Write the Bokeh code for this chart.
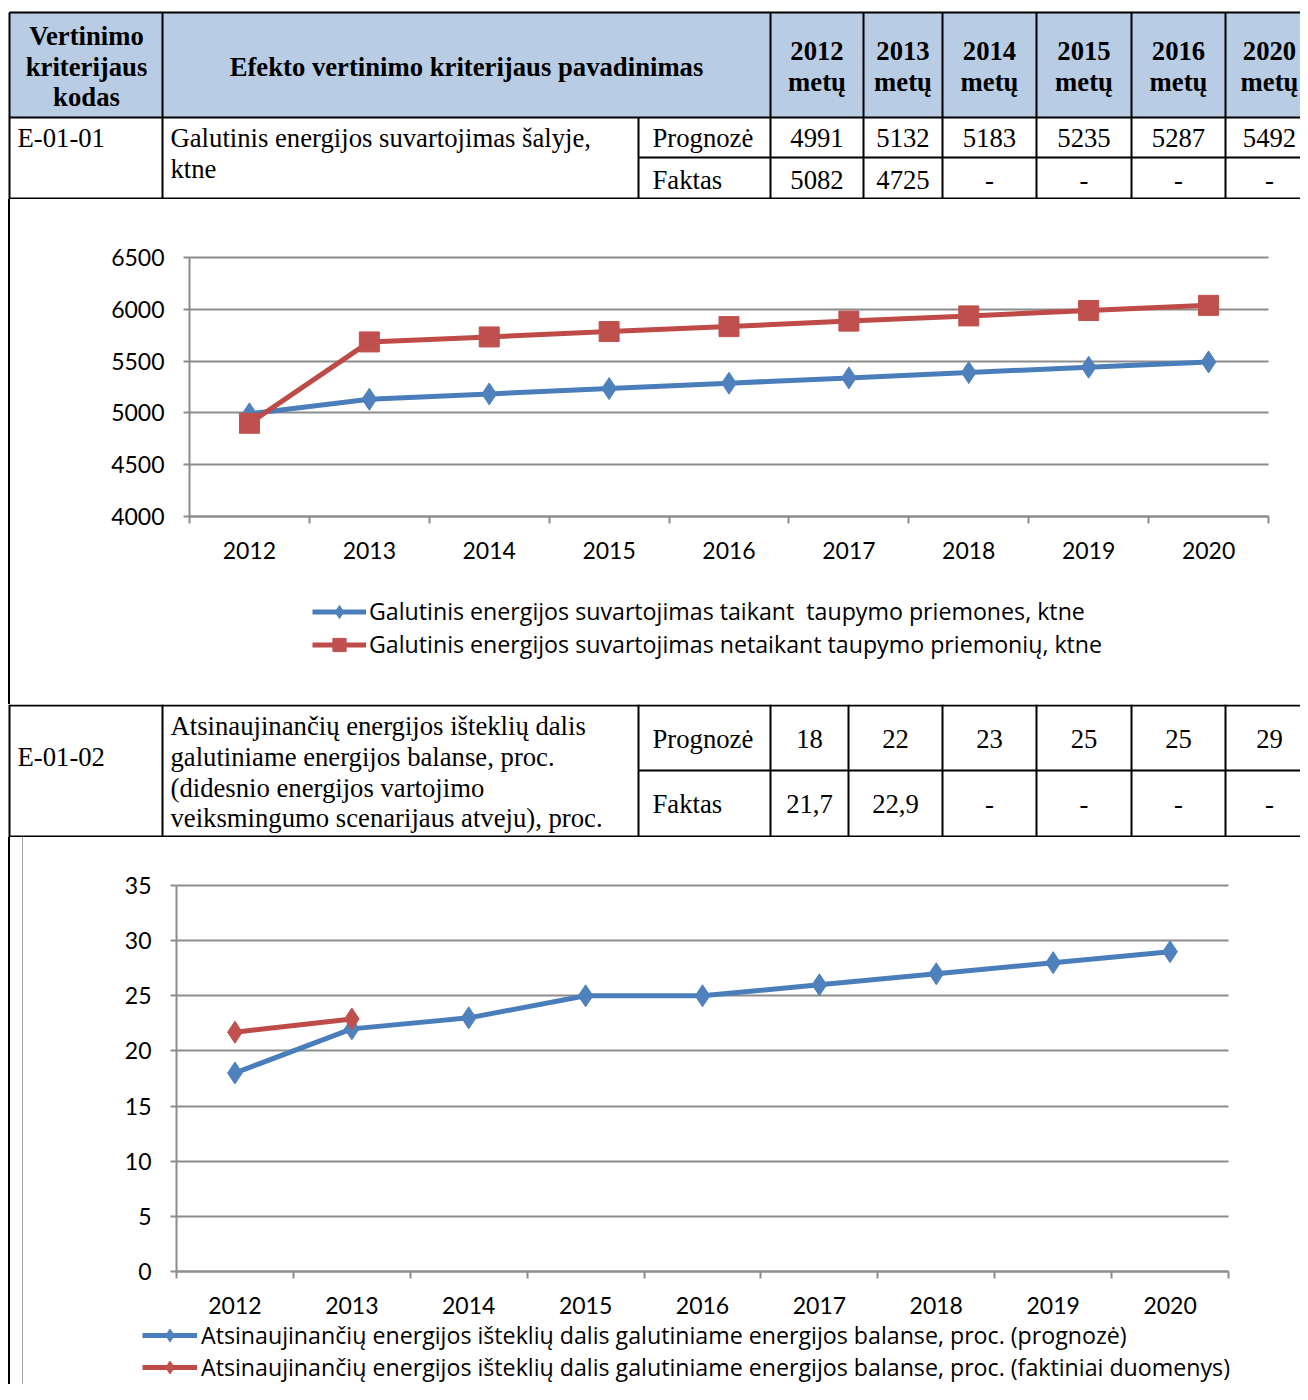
from bokeh.plotting import figure
from bokeh.models import Range1d, FixedTicker, Legend, LegendItem, Spacer
from bokeh.layouts import column, row
from bokeh.embed import file_html
from bokeh.resources import INLINE
from bokeh.core.properties import value

# ---------------- data ----------------
table_years = ["2012", "2013", "2014", "2015", "2016", "2020"]
header_code = ["Vertinimo", "kriterijaus", "kodas"]
header_name = "Efekto vertinimo kriterijaus pavadinimas"
header_unit = "metų"
row_labels = ["Prognozė", "Faktas"]

e1_code = "E-01-01"
e1_name = ["Galutinis energijos suvartojimas šalyje,", "ktne"]
e1_forecast = ["4991", "5132", "5183", "5235", "5287", "5492"]
e1_actual = ["5082", "4725", "-", "-", "-", "-"]

e2_code = "E-01-02"
e2_name = ["Atsinaujinančių energijos išteklių dalis",
           "galutiniame energijos balanse, proc.",
           "(didesnio energijos vartojimo",
           "veiksmingumo scenarijaus atveju), proc."]
e2_forecast = ["18", "22", "23", "25", "25", "29"]
e2_actual = ["21,7", "22,9", "-", "-", "-", "-"]

chart_years = ["2012", "2013", "2014", "2015", "2016", "2017", "2018", "2019", "2020"]
cons_with_savings = [4991, 5132, 5183, 5235, 5287, 5338, 5390, 5441, 5492]
cons_without_savings = [4900, 5685, 5733, 5785, 5833, 5886, 5936, 5988, 6038]
res_forecast = [18, 22, 23, 25, 25, 26, 27, 28, 29]
res_actual = [21.7, 22.9]

c1_labels = ["Galutinis energijos suvartojimas taikant  taupymo priemones, ktne",
             "Galutinis energijos suvartojimas netaikant taupymo priemonių, ktne"]
c2_labels = ["Atsinaujinančių energijos išteklių dalis galutiniame energijos balanse, proc. (prognozė)",
             "Atsinaujinančių energijos išteklių dalis galutiniame energijos balanse, proc. (faktiniai duomenys)"]

# ---------------- styles ----------------
BLUE_L, BLUE_M = "#4a7ebb", "#4f81bd"
RED_L, RED_M = "#be4b48", "#c0504d"
GRID = "#8c8c8c"
HDR = "#b8cce4"
SERIF = value("Liberation Serif")
SANS = "Lato"
LEG_FONT = "Open Sans"
TFS = "26.7px"
TICK_FS = "23px"
LEG_FS = "23.2px"
LW = 5
W = 1300


def table_fig(y_top, y_bot):
    p = figure(width=W, height=y_bot - y_top, x_range=Range1d(0, W),
               y_range=Range1d(y_bot, y_top), output_backend="svg",
               toolbar_location=None, min_border=0,
               x_axis_type=None, y_axis_type=None)
    p.outline_line_color = None
    p.background_fill_color = "white"
    p.border_fill_color = "white"
    return p


def txt(p, xs, ys, texts, align="left", bold=False):
    p.text(x=xs, y=ys, text=texts, text_font=SERIF, text_font_size=TFS,
           text_align=align, text_baseline="middle", text_color="black",
           text_font_style="bold" if bold else "normal")


# column edges for year columns
t1_cols = [770, 863, 942, 1036, 1131, 1225, 1313]
t2_cols = [770, 848, 942, 1036, 1131, 1225, 1313]

# ---------------- table 1 ----------------
t1 = table_fig(0, 199)
t1.quad(left=[9], right=[1313], top=[12], bottom=[117], fill_color=HDR, line_color=None)
hx0 = [9, 9, 638, 9]
hy = [12, 117, 157, 198]
t1.segment(x0=hx0, y0=hy, x1=[1313] * 4, y1=hy, line_color="black", line_width=2)
vx = [9, 162] + t1_cols[:-1]
t1.segment(x0=vx, y0=[12] * len(vx), x1=vx, y1=[199] * len(vx), line_color="black", line_width=2)
t1.segment(x0=[638], y0=[117], x1=[638], y1=[199], line_color="black", line_width=2)
txt(t1, [86, 86, 86], [35, 66, 96], header_code, "center", True)
txt(t1, [466], [66], [header_name], "center", True)
cc1 = [(a + b) / 2 for a, b in zip(t1_cols[:-1], t1_cols[1:])]
txt(t1, cc1, [50] * 6, table_years, "center", True)
txt(t1, cc1, [81] * 6, [header_unit] * 6, "center", True)
txt(t1, [17], [137], [e1_code])
txt(t1, [170, 170], [137, 168], e1_name)
txt(t1, [652, 652], [137, 179], row_labels)
txt(t1, cc1, [137] * 6, e1_forecast, "center")
txt(t1, cc1, [179] * 6, e1_actual, "center")

# ---------------- chart helpers ----------------
x_idx = list(range(1, len(chart_years) + 1))
X_LO, X_HI = 0.5, len(x_idx) + 0.5


def chart_fig(fig_box, plot_box, ymin, ymax):
    """fig_box / plot_box = (left, top, right, bottom) in page pixels.
    The frame fills the whole figure; ranges are set so the plot area
    (axes box) lands on plot_box."""
    fl, ft, fr, fb = fig_box
    pl, pt, pr, pb = plot_box
    ux = (X_HI - X_LO) / (pr - pl)
    uy = (ymax - ymin) / (pb - pt)
    xr = Range1d(X_LO - (pl - fl) * ux, X_HI + (fr - pr) * ux)
    yr = Range1d(ymin - (fb - pb) * uy, ymax + (pt - ft) * uy)
    p = figure(width=fr - fl, height=fb - ft, x_range=xr, y_range=yr,
               output_backend="svg", toolbar_location=None, min_border=0)
    p.outline_line_color = None
    p.background_fill_color = "white"
    p.border_fill_color = "white"
    return p


def style_chart(p, ymin, ymax, ystep):
    yt = FixedTicker(ticks=list(range(ymin, ymax + 1, ystep)))
    xt = FixedTicker(ticks=x_idx, minor_ticks=[i + 0.5 for i in range(len(x_idx) + 1)])
    p.xgrid.visible = False
    p.ygrid.ticker = yt
    p.ygrid.grid_line_color = GRID
    p.ygrid.grid_line_width = 2
    p.ygrid.bounds = (ymin, ymax)
    p.ygrid.cross_bounds = (X_LO, X_HI)
    p.yaxis.ticker = yt
    p.xaxis.ticker = xt
    p.xaxis.major_label_overrides = {i: y for i, y in zip(x_idx, chart_years)}
    p.xaxis.fixed_location = ymin
    p.yaxis.fixed_location = X_LO
    p.xaxis.bounds = (X_LO, X_HI)
    p.yaxis.bounds = (ymin, ymax)
    for ax in (p.xaxis[0], p.yaxis[0]):
        ax.axis_line_color = GRID
        ax.axis_line_width = 2
        ax.major_label_text_font = SANS
        ax.major_label_text_font_size = TICK_FS
        ax.major_label_text_color = "black"
        ax.major_tick_line_color = GRID
        ax.major_tick_line_width = 2
        ax.minor_tick_line_color = GRID
        ax.minor_tick_line_width = 2
    p.yaxis.major_tick_in = 0
    p.yaxis.major_tick_out = 6
    p.yaxis.minor_tick_line_color = None
    p.yaxis.major_label_standoff = 19
    p.xaxis.major_tick_in = 0
    p.xaxis.major_tick_out = 0
    p.xaxis.minor_tick_in = 0
    p.xaxis.minor_tick_out = 7
    p.xaxis.major_label_standoff = 18


def legend(items, loc, gw, gh, standoff):
    return Legend(items=items, location=loc, glyph_width=gw, glyph_height=gh,
                  label_height=gh, spacing=0, padding=0, margin=0,
                  label_standoff=standoff,
                  border_line_color=None, background_fill_alpha=0,
                  label_text_font=LEG_FONT, label_text_font_size=LEG_FS,
                  label_text_color="black")


# ---------------- chart 1 ----------------
C1_FIG = (10, 199, 1300, 704)
C1_PLOT = (189, 257, 1268, 516)
c1 = chart_fig(C1_FIG, C1_PLOT, 4000, 6500)
style_chart(c1, 4000, 6500, 500)
l1 = c1.line(x_idx, cons_with_savings, line_color=BLUE_L, line_width=LW)
m1 = c1.scatter(x_idx, cons_with_savings, marker="diamond", size=22, fill_color=BLUE_M, line_color=BLUE_M)
l2 = c1.line(x_idx, cons_without_savings, line_color=RED_L, line_width=LW)
m2 = c1.scatter(x_idx, cons_without_savings, marker="square", size=20, fill_color=RED_M, line_color=RED_M)
# legend: left edge x=312, rows of 33 px centred at y=611 / 644
GH1 = 33
c1.add_layout(legend([LegendItem(label=c1_labels[0], renderers=[l1, m1]),
                      LegendItem(label=c1_labels[1], renderers=[l2, m2])],
                     (312 - C1_FIG[0], C1_FIG[3] - (611 - GH1 / 2 + 2 * GH1)), 54, GH1, 3))

# ---------------- table 2 ----------------
t2 = table_fig(704, 837)
hy2 = [705, 770, 836]
t2.segment(x0=[9, 638, 9], y0=hy2, x1=[1313] * 3, y1=hy2, line_color="black", line_width=2)
vx2 = [9, 162, 638] + t2_cols[:-1]
t2.segment(x0=vx2, y0=[704] * len(vx2), x1=vx2, y1=[837] * len(vx2), line_color="black", line_width=2)
cc2 = [(a + b) / 2 for a, b in zip(t2_cols[:-1], t2_cols[1:])]
txt(t2, [17], [756], [e2_code])
txt(t2, [170] * 4, [725, 756, 787, 817], e2_name)
txt(t2, [652, 652], [738, 803], row_labels)
txt(t2, cc2, [738] * 6, e2_forecast, "center")
txt(t2, cc2, [803] * 6, e2_actual, "center")

# ---------------- chart 2 ----------------
C2_FIG = (23, 837, 1300, 1384)
C2_PLOT = (176, 885, 1228, 1271)
c2 = chart_fig(C2_FIG, C2_PLOT, 0, 35)
style_chart(c2, 0, 35, 5)
l3 = c2.line(x_idx, res_forecast, line_color=BLUE_L, line_width=LW)
m3 = c2.scatter(x_idx, res_forecast, marker="diamond", size=22, fill_color=BLUE_M, line_color=BLUE_M)
l4 = c2.line(x_idx[:len(res_actual)], res_actual, line_color=RED_L, line_width=LW)
m4 = c2.scatter(x_idx[:len(res_actual)], res_actual, marker="diamond", size=22, fill_color=RED_M, line_color=RED_M)
# legend: left edge x=142, rows of 32 px centred at y=1335 / 1367
GH2 = 32
c2.add_layout(legend([LegendItem(label=c2_labels[0], renderers=[l3, m3]),
                      LegendItem(label=c2_labels[1], renderers=[l4, m4])],
                     (142 - C2_FIG[0], C2_FIG[3] - (1335 - GH2 / 2 + 2 * GH2)), 55, GH2, 4))


def bar(w, h, color=None):
    if color is None:
        return Spacer(width=w, height=h)
    return Spacer(width=w, height=h, styles={"background-color": color})


page = column(
    t1,
    row(bar(8, 505), bar(2, 505, "black"), c1),
    t2,
    row(bar(8, 547), bar(2, 547, "black"), bar(12, 547), bar(1, 547, "#a6a6a6"), c2),
)

with open("out.html", "w") as f:
    f.write(file_html(page, INLINE))
